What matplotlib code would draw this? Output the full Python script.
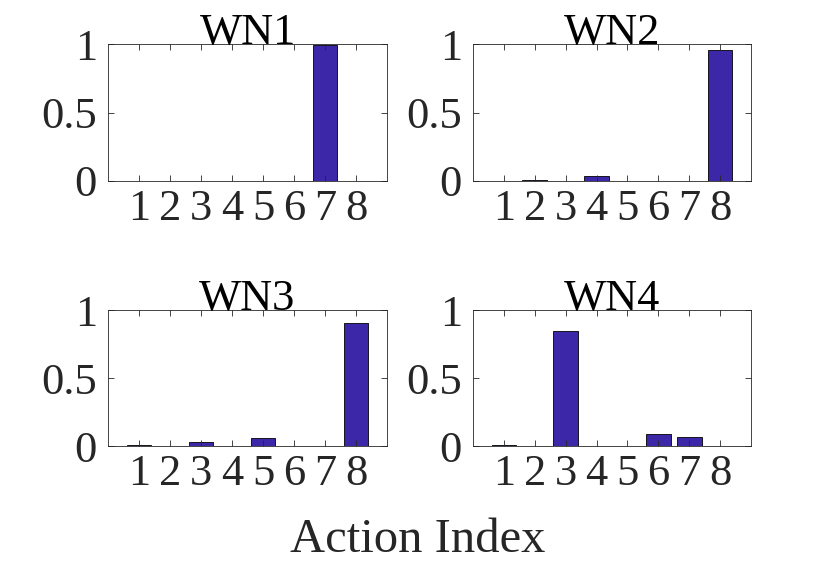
import matplotlib.pyplot as plt
import numpy as np

actions = [1, 2, 3, 4, 5, 6, 7, 8]
titles = ['WN1', 'WN2', 'WN3', 'WN4']
wn1 = [0.001, 0.001, 0.001, 0.001, 0.003, 0.001, 0.99, 0.001]
wn2 = [0.001, 0.005, 0.001, 0.04, 0.001, 0.001, 0.001, 0.955]
wn3 = [0.005, 0.001, 0.03, 0.001, 0.06, 0.0, 0.0, 0.905]
wn4 = [0.007, 0.002, 0.845, 0.003, 0.0, 0.09, 0.065, 0.0]
values = [wn1, wn2, wn3, wn4]

plt.rcParams['font.family'] = ['Liberation Serif', 'DejaVu Serif']

W, H = 830, 561
fig = plt.figure(figsize=(W / 100, H / 100), dpi=100)

# axes boxes in pixels: left, right, top, bottom
boxes = [(108, 387, 44, 181), (473, 751, 44, 181),
         (108, 387, 310, 446), (473, 751, 310, 446)]

bar_color = '#3c27a8'
for box, title, vals in zip(boxes, titles, values):
    l, r, t, b = box
    ax = fig.add_axes([l / W, 1 - b / H, (r - l) / W, (b - t) / H])
    ax.bar(actions, vals, width=0.8, color=bar_color, edgecolor='black', linewidth=0.6)
    ax.set_xlim(0, 9)
    ax.set_ylim(0, 1)
    ax.set_xticks(actions)
    ax.set_yticks([0, 0.5, 1])
    ax.set_yticklabels(['0', '0.5', '1'])
    ax.tick_params(direction='in', length=4, width=0.6, top=True, right=True,
                   labelsize=32, colors='#262626', pad=8)
    ax.tick_params(axis='x', pad=6)
    for s in ax.spines.values():
        s.set_linewidth(0.6)
        s.set_color('#262626')
    ax.set_title(title, fontsize=32, pad=0, color='black')

fig.text(418 / W, 1 - 540 / H, 'Action Index', fontsize=35, ha='center', va='center',
         color='#262626')

fig.savefig('out.png', dpi=100)
